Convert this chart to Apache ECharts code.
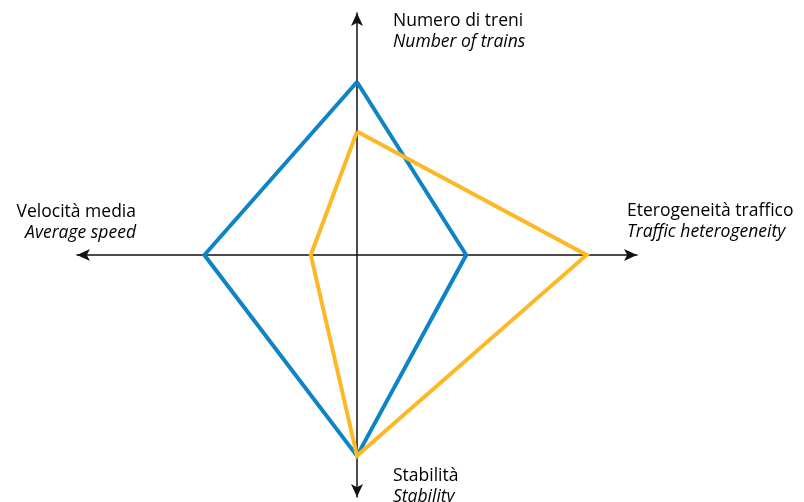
<!DOCTYPE html>
<html>
<head>
<meta charset="utf-8">
<script src="https://cdn.jsdelivr.net/npm/echarts@6/dist/echarts.min.js"></script>
<style>html,body{margin:0;padding:0;background:#fff}#c{width:804px;height:502px}</style>
</head>
<body>
<div id="c"></div>
<script>
// Axis order: top (Numero di treni), right (Eterogeneità traffico), bottom (Stabilità), left (Velocità media)
var axisNames = ['Numero di treni', 'Eterogeneità traffico', 'Stabilità', 'Velocità media'];
var axisNamesEn = ['Number of trains', 'Traffic heterogeneity', 'Stability', 'Average speed'];
var blueValues = [7.15, 3.9, 8.3, 5.45];
var yellowValues = [5.1, 8.2, 8.3, 1.65];

function toPolygon(v) {
  var pts = [[0, v[0]], [v[1], 0], [0, -v[2]], [-v[3], 0]];
  pts.push(pts[0]);
  return pts;
}

var chart = echarts.init(document.getElementById('c'));
var txt = 'Open Sans';
function label(x, y, a, b, align) {
  return {
    type: 'text', x: x, y: y, z: 10,
    style: {
      text: '{a|' + a + '}\n{b|' + b + '}',
      align: align || 'left',
      verticalAlign: 'top',
      rich: {
        a: {fontFamily: txt, fontSize: 17.5, color: '#2a2a2a', lineHeight: 21, align: align || 'left'},
        b: {fontFamily: txt, fontSize: 17.5, fontStyle: 'italic', color: '#2a2a2a', lineHeight: 21, align: align || 'left'}
      }
    }
  };
}
var axisLine = {
  show: true, onZero: true,
  symbol: ['arrow', 'arrow'], symbolSize: [9, 13],
  lineStyle: {color: '#111', width: 1.5}
};
chart.setOption({
  animation: false,
  backgroundColor: '#fff',
  grid: {left: 77, right: 167, top: 13, bottom: 5},
  xAxis: {type: 'value', min: -10, max: 10, axisLine: axisLine,
    axisTick: {show: false}, axisLabel: {show: false}, splitLine: {show: false}},
  yAxis: {type: 'value', min: -10, max: 10, axisLine: axisLine,
    axisTick: {show: false}, axisLabel: {show: false}, splitLine: {show: false}},
  series: [
    {type: 'line', data: toPolygon(blueValues), symbol: 'none', z: 3,
     lineStyle: {color: '#0E84C6', width: 4, join: 'miter'}},
    {type: 'line', data: toPolygon(yellowValues), symbol: 'none', z: 4,
     lineStyle: {color: '#FDB828', width: 4, join: 'miter'}}
  ],
  graphic: [
    label(393, 11, axisNames[0], axisNamesEn[0]),
    label(627, 201, axisNames[1], axisNamesEn[1]),
    label(393, 466, axisNames[2], axisNamesEn[2]),
    label(136, 202, axisNames[3], axisNamesEn[3], 'right')
  ]
});
</script>
</body>
</html>
